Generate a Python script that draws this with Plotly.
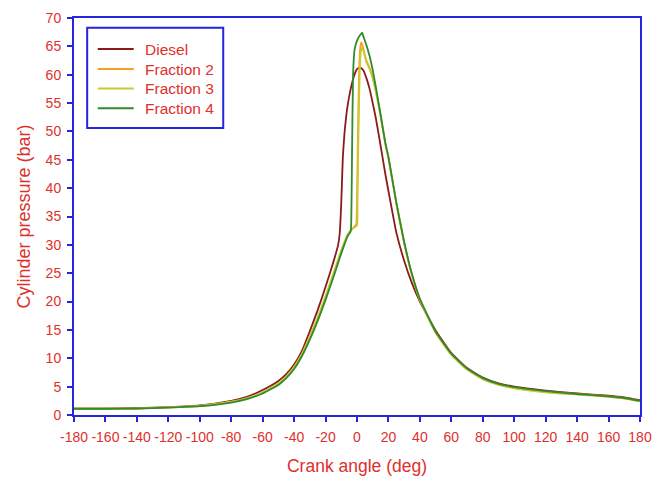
import plotly.graph_objects as go

# ---- data ----
diesel_x = [-180, -160, -140, -120, -100, -80, -70, -60, -50, -45, -40, -35, -30, -25, -20, -15, -12, -11, -10, -9, -8,
            -6, -4, -2, 0, 2, 4, 6, 8, 10, 12, 15, 18, 20, 25, 30, 35, 40, 50, 60, 70, 80, 90, 100, 120, 140, 160, 170, 180]
diesel_y = [1.1, 1.1, 1.2, 1.4, 1.7, 2.5, 3.2, 4.4, 6.0, 7.2, 8.9, 11.3, 14.8, 18.5, 22.6, 27.0, 30.0, 32.0, 37.5, 45.5, 49.5,
            54.5, 57.5, 59.7, 61.0, 61.3, 60.8, 59.4, 57.5, 55.0, 52.3, 47.5, 42.5, 39.5, 32.2, 27.2, 23.2, 20.0, 14.9, 10.9, 8.3,
            6.6, 5.6, 5.0, 4.3, 3.8, 3.4, 3.1, 2.6]

frac2_x = [-180, -160, -140, -120, -100, -80, -70, -60, -50, -45, -40, -35, -30, -25, -20, -15, -10, -6, -4, -2, -0.5, 0,
           0.5, 1, 1.5, 2.2, 2.7, 3.5, 5, 6, 8, 10, 12, 15, 18, 20, 25, 30, 35, 40, 50, 60, 70, 80, 90, 100, 120, 140, 160, 170, 180]
frac2_y = [1.1, 1.1, 1.15, 1.35, 1.6, 2.3, 2.9, 3.9, 5.5, 6.7, 8.3, 10.6, 13.6, 16.9, 20.6, 24.6, 28.8, 31.7, 32.6, 33.1, 33.6, 38.0,
           48.0, 56.0, 62.0, 65.0, 65.7, 65.2, 63.5, 62.5, 61.2, 59.5, 57.2, 52.8, 47.9, 45.4, 37.4, 30.4, 24.7, 20.4, 14.6, 10.7, 8.1,
           6.4, 5.4, 4.8, 4.1, 3.7, 3.3, 3.0, 2.5]

frac3_x = [-180, -160, -140, -120, -100, -80, -70, -60, -50, -45, -40, -35, -30, -25, -20, -15, -10, -6, -4, -2, 0, 0.3,
           0.8, 1.3, 1.8, 2.4, 3.0, 4, 5, 6, 8, 10, 12, 15, 18, 20, 25, 30, 35, 40, 50, 60, 70, 80, 90, 100, 120, 140, 160, 170, 180]
frac3_y = [1.1, 1.1, 1.15, 1.35, 1.62, 2.35, 3.0, 4.0, 5.6, 6.8, 8.5, 10.8, 13.9, 17.2, 21.0, 25.0, 29.1, 31.8, 32.5, 33.0, 33.4, 37.0,
           47.0, 55.0, 61.0, 64.0, 64.7, 64.3, 63.2, 62.2, 61.0, 59.3, 57.0, 52.7, 47.8, 45.3, 37.3, 30.3, 24.6, 20.3, 14.5, 10.6, 8.0,
           6.3, 5.3, 4.7, 4.0, 3.6, 3.2, 2.9, 2.4]

frac4_x = [-180, -160, -140, -120, -100, -80, -70, -60, -50, -45, -40, -35, -30, -25, -20, -15, -10, -6, -4, -3.6, -3.2, -2.5,
           -1.5, 0, 2, 3.3, 4, 6, 8, 10, 12, 15, 18, 20, 25, 30, 35, 40, 50, 60, 70, 80, 90, 100, 120, 140, 160, 170, 180]
frac4_y = [1.1, 1.1, 1.15, 1.3, 1.55, 2.2, 2.8, 3.8, 5.3, 6.5, 8.1, 10.4, 13.3, 16.6, 20.3, 24.3, 28.5, 31.5, 32.4, 35.0, 45.0, 60.0,
           64.5, 66.0, 67.0, 67.4, 66.8, 65.2, 63.3, 60.8, 57.8, 53.0, 48.0, 45.5, 37.5, 30.5, 24.8, 20.5, 14.7, 10.8, 8.2,
           6.5, 5.5, 4.9, 4.2, 3.7, 3.3, 3.0, 2.5]

series_names = ["Diesel", "Fraction 2", "Fraction 3", "Fraction 4"]
series_colors = ["#8b1a1a", "#f7a020", "#c8c830", "#2e8b2e"]

x_tickvals = list(range(-180, 181, 20))
x_ticktext = [str(v) for v in x_tickvals]  # plain hyphen minus, as in the reference
y_tickvals = list(range(0, 71, 5))

RED = "#e0302c"
BLUE = "#2525dd"
FONT = "Liberation Sans, Arial, sans-serif"

W, H = 653, 481
ML, MR, MT, MB = 73.5, 12.5, 18, 66
PW, PH = W - ML - MR, H - MT - MB


def px_to_paper(px, py):
    return (px - ML) / PW, (H - MB - py) / PH


fig = go.Figure()
for name, color, xs, ys in zip(series_names, series_colors,
                               [diesel_x, frac2_x, frac3_x, frac4_x],
                               [diesel_y, frac2_y, frac3_y, frac4_y]):
    fig.add_trace(go.Scatter(x=xs, y=ys, mode="lines", name=name, showlegend=False,
                             line=dict(color=color, width=1.8, shape="spline", smoothing=0.4)))

# legend box drawn in paper coordinates
shapes = []
annotations = []
bx0, by0 = px_to_paper(86.7, 128)
bx1, by1 = px_to_paper(223, 27.7)
shapes.append(dict(type="rect", xref="paper", yref="paper", x0=bx0, y0=by0, x1=bx1, y1=by1,
                   line=dict(color=BLUE, width=2), fillcolor="white", layer="above"))
row_y = [49, 69, 88.5, 108.3]
for name, color, ry in zip(series_names, series_colors, row_y):
    lx0, ly = px_to_paper(97.3, ry)
    lx1, _ = px_to_paper(133.3, ry)
    shapes.append(dict(type="line", xref="paper", yref="paper", x0=lx0, x1=lx1, y0=ly, y1=ly,
                       line=dict(color=color, width=2), layer="above"))
    tx, _ = px_to_paper(142.7, ry)
    annotations.append(dict(text=name, xref="paper", yref="paper", x=tx, y=ly, xanchor="left",
                            yanchor="middle", showarrow=False,
                            font=dict(family=FONT, size=15.5, color=RED)))

fig.update_layout(
    width=W, height=H,
    margin=dict(l=ML, r=MR, t=MT, b=MB),
    paper_bgcolor="white", plot_bgcolor="white",
    font=dict(family=FONT, color=RED, size=14),
    showlegend=False,
    shapes=shapes, annotations=annotations,
)
fig.update_xaxes(
    range=[-180, 180], tickmode="array", tickvals=x_tickvals, ticktext=x_ticktext,
    showline=True, linecolor=BLUE, linewidth=2, mirror=True,
    ticks="outside", tickcolor=BLUE, ticklen=5, tickwidth=2,
    showgrid=False, zeroline=False, automargin=False, ticklabelstandoff=3,
    tickfont=dict(family=FONT, size=14, color=RED),
    title=dict(text="Crank angle (deg)", font=dict(family=FONT, size=17.5, color=RED), standoff=16),
)
fig.update_yaxes(
    range=[0, 70], tickmode="array", tickvals=y_tickvals,
    showline=True, linecolor=BLUE, linewidth=2, mirror=True,
    ticks="outside", tickcolor=BLUE, ticklen=5, tickwidth=2,
    showgrid=False, zeroline=False, automargin=False, ticklabelstandoff=3,
    tickfont=dict(family=FONT, size=14, color=RED),
    title=dict(text="Cylinder pressure (bar)", font=dict(family=FONT, size=18, color=RED), standoff=10),
)

fig.write_html("out.html", config={"displayModeBar": False},
               post_script="document.body.style.margin='0';document.body.style.overflow='hidden';")
